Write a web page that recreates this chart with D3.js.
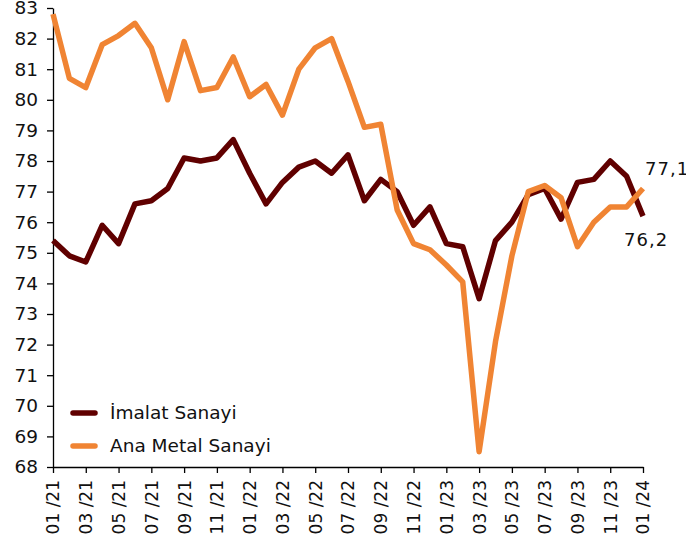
<!DOCTYPE html>
<html>
<head>
<meta charset="utf-8">
<title>Kapasite Kullanim Orani</title>
<script src="https://d3js.org/d3.v7.min.js"></script>
<style>
  body { margin: 0; background: #fff; }
  svg text { font-family: "DejaVu Sans", Verdana, sans-serif; fill: #111; }
  .axis path, .axis line { stroke: #000; stroke-width: 1.3px; }
  .axis text { font-size: 17px; }
  .endlabel { font-size: 18px; letter-spacing: 1px; }
</style>
</head>
<body>
<svg id="chart" width="686" height="546"></svg>
<script>
// aylar 01/21 - 01/24
var months = ["01/21","02/21","03/21","04/21","05/21","06/21","07/21","08/21","09/21","10/21","11/21","12/21",
              "01/22","02/22","03/22","04/22","05/22","06/22","07/22","08/22","09/22","10/22","11/22","12/22",
              "01/23","02/23","03/23","04/23","05/23","06/23","07/23","08/23","09/23","10/23","11/23","12/23",
              "01/24"];

var imalat = [75.4, 74.9, 74.7, 75.9, 75.3, 76.6, 76.7, 77.1, 78.1, 78.0, 78.1, 78.7,
              77.6, 76.6, 77.3, 77.8, 78.0, 77.6, 78.2, 76.7, 77.4, 77.0, 75.9, 76.5,
              75.3, 75.2, 73.5, 75.4, 76.0, 76.9, 77.1, 76.1, 77.3, 77.4, 78.0, 77.5,
              76.2];

var anaMetal = [82.8, 80.7, 80.4, 81.8, 82.1, 82.5, 81.7, 80.0, 81.9, 80.3, 80.4, 81.4,
                80.1, 80.5, 79.5, 81.0, 81.7, 82.0, 80.6, 79.1, 79.2, 76.4, 75.3, 75.1,
                74.6, 74.05, 68.5, 72.1, 74.9, 77.0, 77.2, 76.8, 75.2, 76.0, 76.5, 76.5,
                77.1];

var yTicks = [68, 69, 70, 71, 72, 73, 74, 75, 76, 77, 78, 79, 80, 81, 82, 83];
var xTickLabels = months.filter(function(d, i) { return i % 2 === 0; });

var seriesNames = ["İmalat Sanayi", "Ana Metal Sanayi"];
var seriesColors = ["#600000", "#F08433"];
var endLabels = ["76,2", "77,1"];

var svg = d3.select("#chart");
var padL = 53, padR = 643, padT = 8, padB = 467;

var x = d3.scalePoint().domain(months).range([padL, padR]);
var y = d3.scaleLinear().domain([68, 83]).range([padB, padT]);

// eksenler
var xAxis = svg.append("g")
    .attr("class", "axis")
    .attr("transform", "translate(0," + padB + ")")
    .call(d3.axisBottom(x).tickValues(xTickLabels).tickSize(6).tickSizeOuter(0)
      .tickFormat(function(d) { return d.replace("/", " /"); }));
xAxis.selectAll("text")
    .attr("transform", "rotate(-90)")
    .attr("text-anchor", "end")
    .attr("x", -13)
    .attr("y", 0)
    .attr("dy", "0.35em");

var yAxis = svg.append("g")
    .attr("class", "axis")
    .attr("transform", "translate(" + padL + ",0)")
    .call(d3.axisLeft(y).tickValues(yTicks).tickSize(6).tickSizeOuter(0).tickFormat(d3.format("d")));
yAxis.selectAll("text").attr("x", -15).style("font-size", "18.5px");

var line = d3.line()
    .x(function(d, i) { return x(months[i]); })
    .y(function(d) { return y(d); });

var data = [imalat, anaMetal];

svg.selectAll("path.series")
  .data(data)
  .enter().append("path")
    .attr("class", "series")
    .attr("fill", "none")
    .attr("stroke", function(d, i) { return seriesColors[i]; })
    .attr("stroke-width", 5.5)
    .attr("stroke-linejoin", "round")
    .attr("d", line);

// son deger etiketleri
svg.append("text").attr("class", "endlabel")
    .attr("x", x(months[months.length - 1]) - 19)
    .attr("y", y(imalat[imalat.length - 1]) + 30)
    .text(endLabels[0]);
svg.append("text").attr("class", "endlabel")
    .attr("x", x(months[months.length - 1]) + 2)
    .attr("y", y(anaMetal[anaMetal.length - 1]) - 14)
    .text(endLabels[1]);

// lejant
var legend = svg.selectAll("g.legend")
  .data(seriesNames)
  .enter().append("g")
    .attr("class", "legend")
    .attr("transform", function(d, i) { return "translate(73," + (413 + i * 33) + ")"; });

legend.append("line")
    .attr("x1", 0).attr("x2", 22)
    .attr("stroke", function(d, i) { return seriesColors[i]; })
    .attr("stroke-width", 5.5)
    .attr("stroke-linecap", "round");

legend.append("text")
    .attr("x", 37)
    .attr("dy", "0.35em")
    .style("font-size", "18.5px")
    .text(function(d) { return d; });
</script>
</body>
</html>
